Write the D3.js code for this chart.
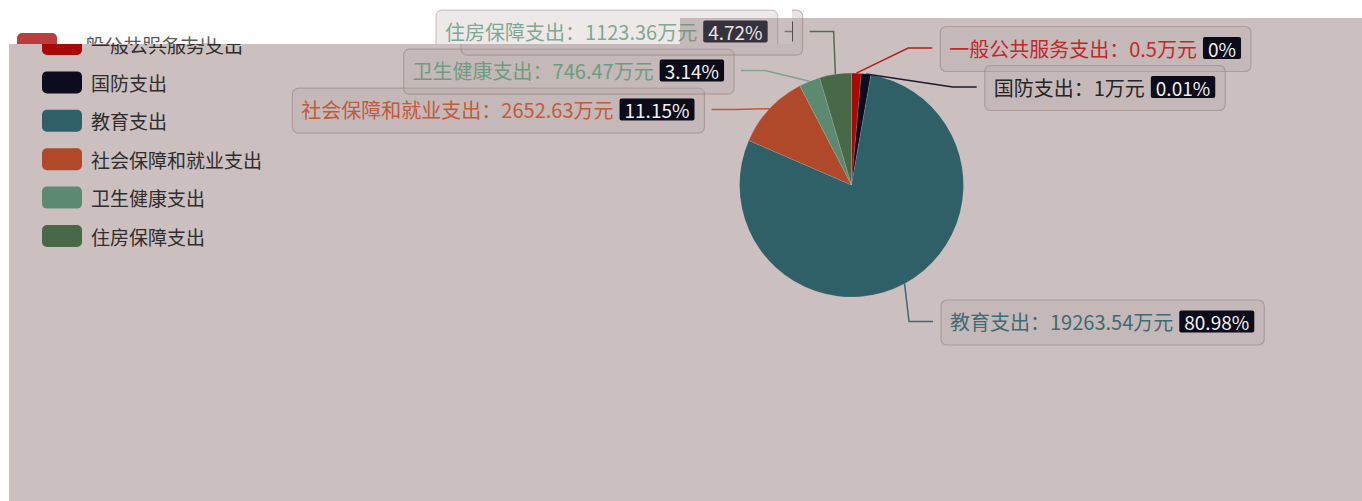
<!DOCTYPE html>
<html><head><meta charset="utf-8">
<script src="https://cdn.jsdelivr.net/npm/d3@7"></script>
<style>body{margin:0;background:#fff;} svg{display:block;}</style>
</head><body>
<svg id="chart" width="1362" height="501"></svg>
<script>
// ---- data ----
const categories = ["一般公共服务支出", "国防支出", "教育支出", "社会保障和就业支出", "卫生健康支出", "住房保障支出"];
const values = [0.5, 1, 19263.54, 2652.63, 746.47, 1123.36];
const unit = "万元";
// ---- styles ----
const sliceColors = ["#a80808", "#0c0c1e", "#2f5f67", "#b0482a", "#5c8a70", "#476947"];
const textColors  = ["#c0282a", "#262626", "#3e6b72", "#c25a3c", "#6e9c82", "#5f8f72"];
const lineColors  = ["#b81c1c", "#1c1c2c", "#3d6a70", "#c0583a", "#7fa38f", "#4d6d52"];
const FONT = "'Noto Sans CJK SC','Microsoft YaHei',sans-serif";

const W = 1362, H = 501;
const svg = d3.select("#chart");
const cx = 851.5, cy = 185, R = 112;
const minAngle = 5 * Math.PI / 180;

// percent with precision 2 (largest remainder)
function percents(vals, prec) {
  const sum = d3.sum(vals), digits = Math.pow(10, prec), target = 100 * digits;
  const raw = vals.map(v => v / sum * target);
  const fl = raw.map(Math.floor);
  let cur = d3.sum(fl);
  const rem = raw.map((r, i) => r - fl[i]);
  while (cur < target) {
    let mi = 0; rem.forEach((r, i) => { if (r > rem[mi]) mi = i; });
    fl[mi]++; rem[mi] = 0; cur++;
  }
  return fl.map(f => +(f / digits).toFixed(prec));
}
const pcts = percents(values, 2);

// angles with minAngle via pie weights
const total = d3.sum(values);
const isSmall = v => v / total * 2 * Math.PI < minAngle;
const smallCount = values.filter(isSmall).length;
const restAngle = 2 * Math.PI - smallCount * minAngle;
const bigSum = d3.sum(values.filter(v => !isSmall(v)));
const pie = d3.pie().sort(null).value(v => isSmall(v) ? minAngle / restAngle * bigSum : v);
const arcs = pie(values);
const arcGen = d3.arc().innerRadius(0).outerRadius(R);

// ---- defs / clips ----
const defs = svg.append("defs");
const gx = 792, gy = 44;
defs.append("clipPath").attr("id", "ghostClip").append("rect").attr("x", 0).attr("y", 0).attr("width", gx).attr("height", gy);
defs.append("clipPath").attr("id", "realClip").append("path").attr("clip-rule", "evenodd")
  .attr("d", `M0,0H${W}V${H}H0Z M0,0V${gy}H${gx}V0Z`);

const real = svg.append("g").attr("clip-path", "url(#realClip)");
real.append("rect").attr("x", 9).attr("y", 18).attr("width", W - 9).attr("height", H - 18).attr("fill", "#ccbfbf");
const content = real.append("g").attr("id", "content");

// ---- pie ----
content.append("g").selectAll("path").data(arcs).join("path")
  .attr("transform", `translate(${cx},${cy})`)
  .attr("d", arcGen)
  .attr("fill", (d, i) => sliceColors[i])
  .attr("stroke", "rgba(255,255,255,0.25)").attr("stroke-width", 0.5);

// ---- label layout ----
const Rlab = 155, Rend = 159, len2 = 24, gap = 39;
const labels = arcs.map((d, i) => {
  const mid = (d.startAngle + d.endAngle) / 2;
  return { i, mid, dir: Math.sin(mid) >= 0 ? 1 : -1,
    sx: cx + R * Math.sin(mid), sy: cy - R * Math.cos(mid),
    y: cy - Rlab * Math.cos(mid) };
});
[1, -1].forEach(dir => {
  const side = labels.filter(l => l.dir === dir).sort((a, b) => a.y - b.y);
  const topBound = dir === 1 ? 48 : 0;
  let last = -Infinity;
  side.forEach(l => {
    l.y = Math.max(l.y, last + gap, topBound);
    last = l.y;
  });
});
labels.forEach(l => {
  const dy = l.y - cy;
  const dx = Math.abs(dy) < Rend ? Math.sqrt(Rend * Rend - dy * dy) : Math.abs(l.sx - cx);
  l.ex = cx + l.dir * dx;
  l.kx = l.ex - l.dir * len2;
});

const lineG = content.append("g");
labels.forEach(l => {
  lineG.append("polyline")
    .attr("points", `${l.sx},${l.sy} ${l.kx},${l.y} ${l.ex},${l.y}`)
    .attr("fill", "none").attr("stroke", lineColors[l.i]).attr("stroke-width", 1.5);
});

const labG = content.append("g");
labels.forEach(l => {
  const g = labG.append("g");
  const box = g.append("rect");
  const t = g.append("text").attr("font-family", FONT).attr("font-size", 20)
    .attr("fill", textColors[l.i]).attr("dominant-baseline", "central")
    .text(`${categories[l.i]}：${values[l.i]}${unit}`);
  const badge = g.append("rect");
  const bt = g.append("text").attr("font-family", FONT).attr("font-size", 19)
    .attr("fill", "#f2f2f2").attr("dominant-baseline", "central")
    .text(`${pcts[l.i]}%`);
  const tw = t.node().getComputedTextLength();
  const bw = bt.node().getComputedTextLength() + 10;
  const padL = 9, padR = 10, inner = 6;
  const boxW = padL + tw + inner + bw + padR, boxH = 45;
  const bx = l.dir === 1 ? l.ex + 8 : l.ex - 7 - boxW;
  box.attr("x", bx).attr("y", l.y - boxH / 2 + 1).attr("width", boxW).attr("height", boxH)
    .attr("rx", 6).attr("fill", "rgba(185,172,172,0.32)")
    .attr("stroke", "rgba(140,118,118,0.45)").attr("stroke-width", 1.2);
  t.attr("x", bx + padL).attr("y", l.y);
  const bxx = bx + padL + tw + inner;
  badge.attr("x", bxx).attr("y", l.y - 11).attr("width", bw).attr("height", 22).attr("rx", 2).attr("fill", "#0b0b1a");
  bt.attr("x", bxx + 5).attr("y", l.y);
});

// ---- legend ----
const lg = content.append("g");
const legY = d3.scaleLinear().domain([0, 1]).range([44, 82.4]);
categories.forEach((c, i) => {
  lg.append("rect").attr("x", 42).attr("y", legY(i) - 11).attr("width", 40).attr("height", 22)
    .attr("rx", 5).attr("fill", sliceColors[i]);
  lg.append("text").attr("x", 91).attr("y", legY(i)).attr("dominant-baseline", "central")
    .attr("font-family", FONT).attr("font-size", 19).attr("fill", "#2e2e2e").text(c);
});

// ---- ghost (screen glitch) region ----
const ghost = svg.append("g").attr("clip-path", "url(#ghostClip)");
ghost.append("rect").attr("x", 0).attr("y", 0).attr("width", gx).attr("height", gy).attr("fill", "#fff");
ghost.append("rect").attr("x", 680).attr("y", 18).attr("width", gx - 680).attr("height", gy - 18).attr("fill", "#ccbfbf");
ghost.append("use").attr("href", "#content").attr("transform", "translate(-25,0)").attr("opacity", 0.78);
</script>
</body></html>
